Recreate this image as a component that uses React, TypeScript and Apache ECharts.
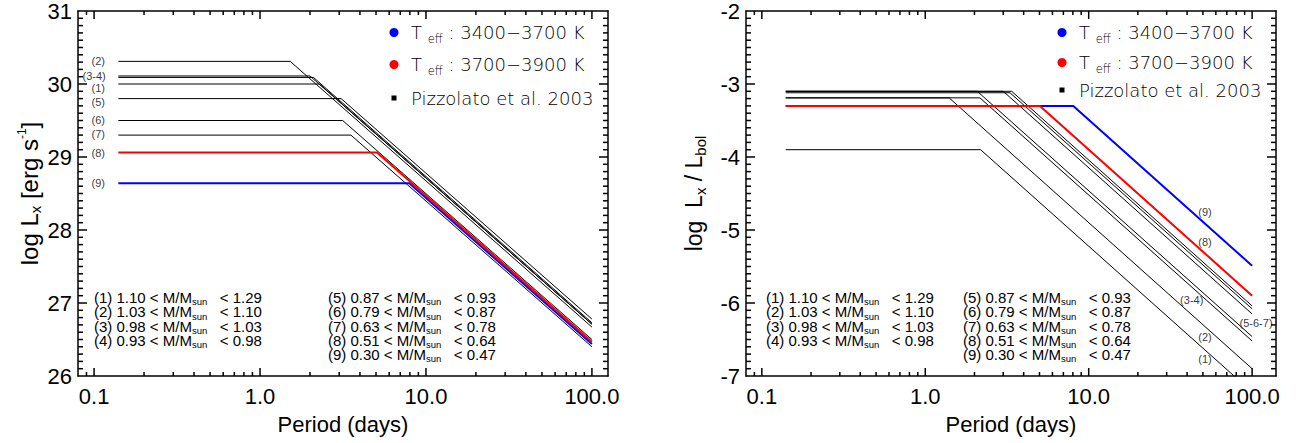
import React, { useEffect, useRef } from 'react';
import * as echarts from 'echarts';

// ---------------- data ----------------
const bins = ['1', '2', '3', '4', '5', '6', '7', '8', '9'];
const massLow = ['1.10', '1.03', '0.98', '0.93', '0.87', '0.79', '0.63', '0.51', '0.30'];
const massHigh = ['1.29', '1.10', '1.03', '0.98', '0.93', '0.87', '0.78', '0.64', '0.47'];

const periodStart = 0.14;
const periodEnd = 100;

// left panel: log Lx [erg s-1]
const lxSat = [30.0, 30.31, 30.11, 30.09, 29.8, 29.5, 29.3, 29.06, 28.64];
const lxPsat = [2.28, 1.52, 2.0, 2.1, 3.08, 3.15, 3.53, 5.07, 7.93];
const lxEnd = [26.71, 26.67, 26.71, 26.73, 26.78, 26.5, 26.4, 26.47, 26.44];

// right panel: log Lx/Lbol
const rxSat = [-3.9, -3.19, -3.1, -3.19, -3.1, -3.12, -3.1, -3.3, -3.3];
const rxPsat = [2.18, 1.4, 2.08, 2.16, 3.0, 3.3, 3.38, 5.03, 8.05];
const rxEnd = [-7.22, -6.9, -6.46, -6.52, -6.15, -6.08, -6.04, -5.9, -5.49];

// line tags
const lxTagText = ['(2)', '(3-4)', '(1)', '(5)', '(6)', '(7)', '(8)', '(9)'];
const lxTagP = [0.106, 0.1, 0.106, 0.106, 0.106, 0.106, 0.106, 0.106];
const lxTagV = [30.31, 30.11, 29.95, 29.75, 29.51, 29.31, 29.06, 28.64];

const rxTagText = ['(9)', '(8)', '(3-4)', '(5-6-7)', '(2)', '(1)'];
const rxTagP = [51.5, 51.5, 42.7, 105.7, 51.5, 51.5];
const rxTagV = [-4.75, -5.17, -5.96, -6.27, -6.47, -6.77];

// axes
const xMajorTicks = [0.1, 1, 10, 100];
const xMinorTicks = [0.09, 0.2, 0.3, 0.4, 0.5, 0.6, 0.7, 0.8, 0.9, 2, 3, 4, 5, 6, 7, 8, 9, 20, 30, 40, 50, 60, 70, 80, 90];
const xMin = 0.08;
const xMaxLeft = 125;
const xMaxRight = 140;
const lxRange = [26, 31];
const rxRange = [-7, -2];
const yMinorPerUnit = 10;

// legend
const tempRanges = ['3400\u22123700', '3700\u22123900'];
const tempColors = ['#0000ff', '#ff0000'];
const refLabel = 'Pizzolato et al. 2003';

// ---------------- styling ----------------
const SANS = '"Liberation Sans", Arial, Helvetica, sans-serif';
const THIN = '"DejaVu Sans", sans-serif';
const FRAME_W = 1.5;
const TICK_W = 1.5;

function binColor(i: number) {
  if (i === 8) return '#0000ff';
  if (i === 7) return '#ff0000';
  return '#000000';
}

function lineSeries(xi: number, yi: number, sat: number[], psat: number[], end: number[]) {
  const order = [0, 1, 2, 3, 4, 5, 6, 8, 7];
  return order.map((i) => ({
    type: 'line',
    name: '(' + bins[i] + ')',
    xAxisIndex: xi,
    yAxisIndex: yi,
    data: [
      [periodStart, sat[i]],
      [psat[i], sat[i]],
      [periodEnd, end[i]],
    ],
    symbol: 'none',
    showSymbol: false,
    silent: true,
    clip: true,
    lineStyle: { color: binColor(i), width: i >= 7 ? 2 : 1 },
    itemStyle: { color: binColor(i) },
    z: i >= 7 ? 3 : 2,
  }));
}

function tagSeries(xi: number, yi: number, texts: string[], ps: number[], vs: number[]) {
  return {
    type: 'scatter',
    xAxisIndex: xi,
    yAxisIndex: yi,
    data: ps.map((p, i) => [p, vs[i]]),
    symbolSize: 1,
    silent: true,
    itemStyle: { color: 'rgba(0,0,0,0)' },
    label: {
      show: true,
      position: 'inside',
      formatter: (p: any) => texts[p.dataIndex],
      fontSize: 11,
      fontFamily: SANS,
      color: '#000',
    },
    z: 5,
  };
}

// inward ticks on all four sides, placed through the axes' own scales
function tickSeries(xi: number, yi: number, xMax: number, yr: number[]) {
  const data: number[][] = [];
  xMajorTicks.forEach((v) => data.push([v, yr[0], 0, 8]));
  xMinorTicks.forEach((v) => data.push([v, yr[0], 0, 4]));
  const steps = (yr[1] - yr[0]) * yMinorPerUnit;
  for (let k = 1; k < steps; k++) {
    const v = yr[0] + k / yMinorPerUnit;
    data.push([xMin, Math.round(v * 1000) / 1000, 1, k % yMinorPerUnit === 0 ? 9 : 5]);
  }
  return {
    type: 'custom',
    xAxisIndex: xi,
    yAxisIndex: yi,
    dimensions: ['px', 'py', 'dir', 'len'],
    encode: { x: 'px', y: 'py' },
    data,
    clip: false,
    silent: true,
    z: 10,
    renderItem: (_params: any, api: any) => {
      const v0 = api.value(0);
      const v1 = api.value(1);
      const dir = api.value(2);
      const len = api.value(3);
      const st = { stroke: '#000000', lineWidth: TICK_W };
      if (dir === 0) {
        const b = api.coord([v0, yr[0]]);
        const t = api.coord([v0, yr[1]]);
        return {
          type: 'group',
          children: [
            { type: 'line', shape: { x1: b[0], y1: b[1], x2: b[0], y2: b[1] - len }, style: st },
            { type: 'line', shape: { x1: t[0], y1: t[1], x2: t[0], y2: t[1] + len }, style: st },
          ],
        };
      }
      const l = api.coord([xMin, v1]);
      const r = api.coord([xMax, v1]);
      return {
        type: 'group',
        children: [
          { type: 'line', shape: { x1: l[0], y1: l[1], x2: l[0] + len, y2: l[1] }, style: st },
          { type: 'line', shape: { x1: r[0], y1: r[1], x2: r[0] - len, y2: r[1] }, style: st },
        ],
      };
    },
  };
}

function xAxes(grid: number, max: number, name: string) {
  const base = (position: string, labels: boolean) => ({
    type: 'log',
    logBase: 10,
    gridIndex: grid,
    position,
    min: xMin,
    max,
    axisLine: { show: true, onZero: false, lineStyle: { color: '#000', width: FRAME_W } },
    axisTick: { show: false },
    axisLabel: {
      show: labels,
      customValues: xMajorTicks,
      formatter: (v: number) => v.toFixed(1),
      fontSize: 22,
      fontFamily: SANS,
      color: '#000',
      margin: 9,
    },
    splitLine: { show: false },
    minorTick: { show: false },
  });
  const main: any = base('bottom', true);
  main.name = name;
  main.nameLocation = 'middle';
  main.nameGap = 37;
  main.nameTextStyle = { fontSize: 22, fontFamily: SANS, color: '#000' };
  return [main, base('top', false)];
}

function richName(fs: number, lh: number) {
  const sub = (size: number, shift: number) => ({
    fontSize: size,
    fontFamily: SANS,
    color: '#000',
    lineHeight: lh,
    verticalAlign: 'top',
    padding: [Math.max(0, lh / 2 + shift - size / 2), 0, 0, 0],
  });
  return {
    t: { fontSize: fs, fontFamily: SANS, color: '#000', lineHeight: lh },
    s: sub(15, 6),
    p: sub(12, -7),
  };
}

function yAxes(grid: number, range: number[], name: string, gap: number, fs: number) {
  const base = (position: string, labels: boolean) => ({
    type: 'value',
    gridIndex: grid,
    position,
    min: range[0],
    max: range[1],
    interval: 1,
    axisLine: { show: true, onZero: false, lineStyle: { color: '#000', width: FRAME_W } },
    axisTick: { show: false },
    minorTick: { show: false },
    axisLabel: { show: labels, fontSize: 22, fontFamily: SANS, color: '#000', margin: 6 },
    splitLine: { show: false },
    minorSplitLine: { show: false },
  });
  const main: any = base('left', true);
  main.name = name;
  main.nameLocation = 'middle';
  main.nameRotate = 90;
  main.nameGap = gap;
  main.nameTextStyle = { fontSize: fs, fontFamily: SANS, color: '#000', rich: richName(fs, 28) };
  return [main, base('right', false)];
}

function textSub(size: number, lh: number, shift: number, fam: string) {
  return {
    fontSize: size,
    fontFamily: fam,
    fill: '#000',
    lineHeight: lh,
    verticalAlign: 'top',
    padding: [Math.max(0, lh / 2 + shift - size / 2), 0, 0, 0],
  };
}

function legendGraphics(gx: number, rows: number[]) {
  const dotX = gx + 316;
  const textX = dotX + 17;
  const els: any[] = [];
  const legendRich = {
    a: { fontSize: 18, fontFamily: THIN, fontWeight: 200, fill: '#000', lineHeight: 24 },
    b: { ...textSub(11.5, 24, 6.5, THIN), fontWeight: 200, fill: '#000' },
  };
  tempRanges.forEach((r, i) => {
    els.push({ type: 'circle', shape: { cx: dotX, cy: rows[i], r: 4.5 }, style: { fill: tempColors[i] }, silent: true });
    els.push({
      type: 'text',
      x: textX,
      y: rows[i],
      style: {
        text: '{a|T }{b|eff}{a| : ' + r + ' K}',
        rich: legendRich,
        align: 'left',
        verticalAlign: 'middle',
        fill: '#000',
      },
      silent: true,
    });
  });
  els.push({ type: 'rect', shape: { x: dotX - 2.5, y: rows[2] - 2.5, width: 5, height: 5 }, style: { fill: '#000' }, silent: true });
  els.push({
    type: 'text',
    x: textX,
    y: rows[2],
    style: { text: '{a|' + refLabel + '}', rich: legendRich, align: 'left', verticalAlign: 'middle', fill: '#000' },
    silent: true,
  });
  return els;
}

function massGraphics(col1: number, col2: number) {
  const rowY = [297.5, 311.8, 326.1, 340.4, 354.7];
  const rich = {
    n: { fontSize: 15, fontFamily: SANS, fill: '#000', lineHeight: 14 },
    s: textSub(9.5, 14, 4, SANS),
  };
  return bins.map((b, i) => {
    const left = i < 4;
    const x = left ? col1 : col2;
    const y = rowY[left ? i : i - 4];
    return {
      type: 'text',
      x,
      y,
      style: {
        text: '{n|(' + b + ') ' + massLow[i] + ' < M/M}{s|sun}{n|   < ' + massHigh[i] + '}',
        rich,
        align: 'left',
        verticalAlign: 'middle',
        fill: '#000',
      },
      silent: true,
    };
  });
}

const option: any = {
  animation: false,
  backgroundColor: '#ffffff',
  textStyle: { fontFamily: SANS },
  grid: [
    { left: 78, top: 8, width: 530, height: 368, containLabel: false },
    { left: 746, top: 8, width: 530, height: 368, containLabel: false },
  ],
  xAxis: [...xAxes(0, xMaxLeft, 'Period (days)'), ...xAxes(1, xMaxRight, 'Period (days)')],
  yAxis: [
    ...yAxes(0, lxRange, '{t|log L}{s|x}{t| [erg s}{p|-1}{t|]}', 35, 24),
    ...yAxes(1, rxRange, '{t|log  L}{s|x}{t| / L}{s|bol}', 38, 23),
  ],
  series: [
    ...lineSeries(0, 0, lxSat, lxPsat, lxEnd),
    tagSeries(0, 0, lxTagText, lxTagP, lxTagV),
    tickSeries(0, 0, xMaxLeft, lxRange),
    ...lineSeries(2, 2, rxSat, rxPsat, rxEnd),
    tagSeries(2, 2, rxTagText, rxTagP, rxTagV),
    tickSeries(2, 2, xMaxRight, rxRange),
  ],
  graphic: {
    elements: [
      ...legendGraphics(78, [32.5, 64.5, 98]),
      ...legendGraphics(746, [32.5, 62.5, 90]),
      ...massGraphics(94, 328),
      ...massGraphics(766, 963),
    ],
  },
};

export default function App() {
  const ref = useRef<HTMLDivElement>(null);
  useEffect(() => {
    if (!ref.current) return;
    const chart = echarts.init(ref.current, null, { renderer: 'svg' });
    chart.setOption(option);
    return () => chart.dispose();
  }, []);
  return (
    <div
      ref={ref}
      style={{ position: 'fixed', left: 0, top: 0, width: 1299, height: 443, background: '#fff' }}
    />
  );
}
